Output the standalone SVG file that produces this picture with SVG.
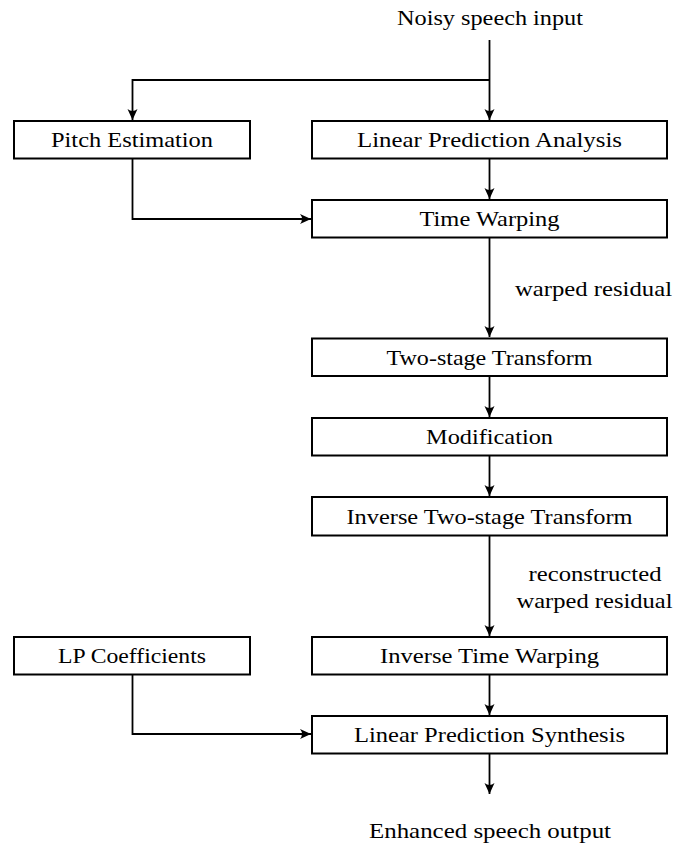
<svg xmlns="http://www.w3.org/2000/svg" width="673" height="843" viewBox="0 0 673 843">
<style>
  .box { fill: #ffffff; stroke: #000000; stroke-width: 2; }
  .t { font-family: "Liberation Serif", "Times New Roman", serif; font-size: 21px; fill: #000000; text-anchor: middle; }
  .l { font-family: "Liberation Serif", "Times New Roman", serif; font-size: 21px; fill: #000000; }
  .c { fill: none; stroke: #000000; stroke-width: 1.8; }
</style>
<defs>
  <marker id="ah" markerUnits="userSpaceOnUse" markerWidth="14" markerHeight="12" viewBox="-12 -6 14 12" refX="0" refY="0" orient="auto">
    <path d="M0,0 L-11,-5 Q-7,0 -11,5 Z" fill="#000000"/>
  </marker>
</defs>
<rect width="673" height="843" fill="#ffffff"/>
<g id="connectors">
  <path class="c" d="M489.5,40 V120" marker-end="url(#ah)"/>
  <path class="c" d="M489.5,80 H132.5 V120" marker-end="url(#ah)"/>
  <path class="c" d="M132.5,158 V219 H311" marker-end="url(#ah)"/>
  <path class="c" d="M489.5,158 V199" marker-end="url(#ah)"/>
  <path class="c" d="M489.5,237 V337" marker-end="url(#ah)"/>
  <path class="c" d="M489.5,376 V417" marker-end="url(#ah)"/>
  <path class="c" d="M489.5,456 V496" marker-end="url(#ah)"/>
  <path class="c" d="M489.5,536 V636" marker-end="url(#ah)"/>
  <path class="c" d="M132.5,674 V734 H311" marker-end="url(#ah)"/>
  <path class="c" d="M489.5,674 V715" marker-end="url(#ah)"/>
  <path class="c" d="M489.5,753 V794" marker-end="url(#ah)"/>
  <text class="l" x="515" y="296" textLength="157" lengthAdjust="spacingAndGlyphs">warped residual</text>
  <text class="t" x="595" y="581" textLength="133" lengthAdjust="spacingAndGlyphs">reconstructed</text>
  <text class="t" x="594.5" y="608" textLength="156" lengthAdjust="spacingAndGlyphs">warped residual</text>
</g>
<g id="input"><text class="t" x="490" y="25" textLength="186" lengthAdjust="spacingAndGlyphs">Noisy speech input</text></g>
<g id="pitch"><rect class="box" x="14" y="121" width="236" height="37.5"/><text class="t" x="132" y="147" textLength="162" lengthAdjust="spacingAndGlyphs">Pitch Estimation</text></g>
<g id="lpa"><rect class="box" x="312" y="121" width="355" height="37.5"/><text class="t" x="489.5" y="147" textLength="265" lengthAdjust="spacingAndGlyphs">Linear Prediction Analysis</text></g>
<g id="tw"><rect class="box" x="312" y="200" width="355" height="37.5"/><text class="t" x="489.5" y="226" textLength="140" lengthAdjust="spacingAndGlyphs">Time Warping</text></g>
<g id="tst"><rect class="box" x="312" y="338.5" width="355" height="37.5"/><text class="t" x="489.5" y="364.5" textLength="206" lengthAdjust="spacingAndGlyphs">Two-stage Transform</text></g>
<g id="mod"><rect class="box" x="312" y="418" width="355" height="37.5"/><text class="t" x="489.5" y="444" textLength="127" lengthAdjust="spacingAndGlyphs">Modification</text></g>
<g id="itst"><rect class="box" x="312" y="497" width="355" height="38.5"/><text class="t" x="489.5" y="523.5" textLength="286" lengthAdjust="spacingAndGlyphs">Inverse Two-stage Transform</text></g>
<g id="lpc"><rect class="box" x="14" y="637" width="236" height="37.5"/><text class="t" x="132" y="663" textLength="148" lengthAdjust="spacingAndGlyphs">LP Coefficients</text></g>
<g id="itw"><rect class="box" x="312" y="637" width="355" height="37.5"/><text class="t" x="489.5" y="663" textLength="219" lengthAdjust="spacingAndGlyphs">Inverse Time Warping</text></g>
<g id="lps"><rect class="box" x="312" y="716" width="355" height="37.5"/><text class="t" x="489.5" y="742" textLength="271" lengthAdjust="spacingAndGlyphs">Linear Prediction Synthesis</text></g>
<g id="output"><text class="t" x="490" y="838" textLength="242" lengthAdjust="spacingAndGlyphs">Enhanced speech output</text></g>
</svg>
